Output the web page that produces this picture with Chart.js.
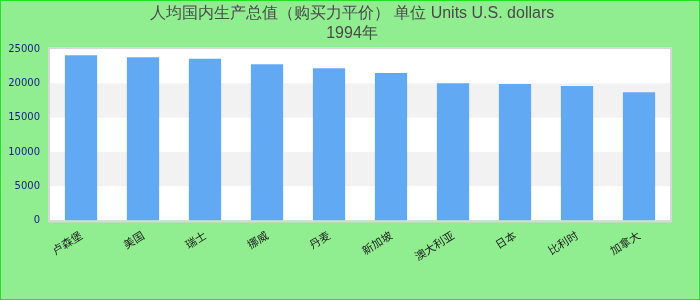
<!DOCTYPE html>
<html>
<head>
<meta charset="utf-8">
<script src="https://cdn.jsdelivr.net/npm/chart.js@4/dist/chart.umd.min.js"></script>
<style>
html,body{margin:0;padding:0;background:#90EE90;}
#wrap{width:700px;height:300px;position:relative;}
</style>
</head>
<body>
<div id="wrap"><canvas id="c" width="700" height="300"></canvas></div>
<script>
const titleLines = ["人均国内生产总值（购买力平价） 单位 Units U.S. dollars", "1994年"];
const categories = ["卢森堡", "美国", "瑞士", "挪威", "丹麦", "新加坡", "澳大利亚", "日本", "比利时", "加拿大"];
const values = [24100, 23800, 23600, 22800, 22200, 21500, 20000, 19900, 19600, 18700];
const yTicks = [0, 5000, 10000, 15000, 20000, 25000];

const bgPlugin = {
  id: 'bg',
  beforeDraw(chart) {
    const ctx = chart.ctx, w = chart.width, h = chart.height;
    ctx.save();
    ctx.fillStyle = '#90EE90';
    ctx.fillRect(0, 0, w, h);
    ctx.strokeStyle = '#22e022';
    ctx.lineWidth = 2;
    ctx.strokeRect(0, 0, w, h);
    const a = chart.chartArea, y = chart.scales.y;
    ctx.fillStyle = '#ffffff';
    ctx.fillRect(a.left, a.top, a.right - a.left, a.bottom - a.top);
    for (let i = 0; i < yTicks.length - 1; i++) {
      if (i % 2 === 1) {
        const y1 = y.getPixelForValue(yTicks[i + 1]);
        const y0 = y.getPixelForValue(yTicks[i]);
        ctx.fillStyle = '#f2f2f2';
        ctx.fillRect(a.left, y1, a.right - a.left, y0 - y1);
      }
    }
    ctx.strokeStyle = '#d8d8d8';
    ctx.lineWidth = 2;
    ctx.strokeRect(a.left - 1, a.top - 1, a.right - a.left + 2, a.bottom - a.top + 2);
    ctx.restore();
  }
};

new Chart(document.getElementById('c'), {
  type: 'bar',
  data: {
    labels: categories,
    datasets: [{
      data: values,
      backgroundColor: '#62a9f4',
      borderWidth: 0,
      categoryPercentage: 1.0,
      barPercentage: 0.52
    }]
  },
  options: {
    responsive: false,
    animation: false,
    layout: { padding: { left: 6, right: 2, top: 0, bottom: 29 } },
    plugins: {
      legend: { display: false },
      tooltip: { enabled: false },
      title: {
        display: true,
        text: titleLines,
        color: '#4a4a4a',
        font: { family: 'Liberation Sans, Arial, sans-serif', size: 16, weight: 'normal', lineHeight: 1.22 },
        padding: { top: 4, bottom: 6 }
      }
    },
    scales: {
      x: {
        grid: { display: false, drawTicks: false },
        border: { display: false },
        afterFit(scale) { scale.paddingLeft = 0; scale.paddingRight = 0; },
        ticks: {
          color: '#222',
          font: { family: 'Noto Sans CJK SC, sans-serif', size: 11 },
          minRotation: 32, maxRotation: 32,
          autoSkip: false,
          padding: 8
        }
      },
      y: {
        min: 0, max: 25000,
        afterBuildTicks(scale) { scale.ticks = yTicks.map(v => ({ value: v })); },
        afterFit(scale) { scale.width = 44; },
        grid: { display: false, drawTicks: false },
        border: { display: false },
        ticks: {
          color: '#1a1a8c',
          font: { family: 'DejaVu Sans, sans-serif', size: 10 },
          padding: 10,
          callback: (v) => String(v)
        }
      },
      yRight: {
        position: 'right',
        display: true,
        min: 0, max: 25000,
        grid: { display: false, drawTicks: false },
        border: { display: false },
        ticks: { display: false },
        afterFit(scale) { scale.width = 28; }
      }
    }
  },
  plugins: [bgPlugin]
});
</script>
</body>
</html>
